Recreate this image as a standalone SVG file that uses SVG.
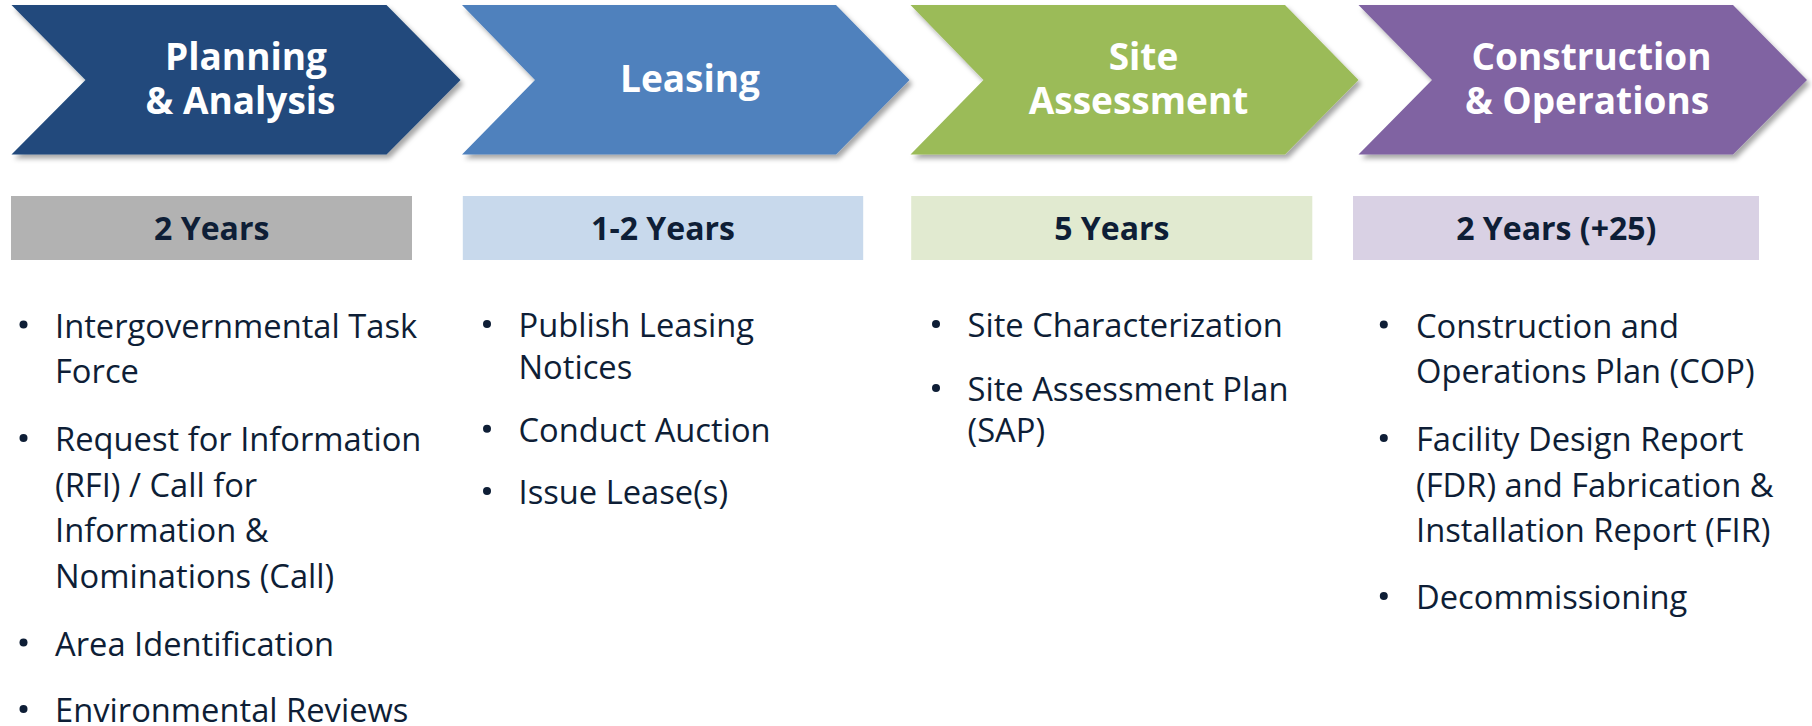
<svg xmlns="http://www.w3.org/2000/svg" width="1812" height="726" viewBox="0 0 1812 726">
<defs>
<filter id="shadow" x="-5%" y="-10%" width="115%" height="130%">
<feDropShadow dx="3" dy="4" stdDeviation="2.5" flood-color="#000" flood-opacity="0.35"/>
</filter>
</defs>
<style>
.title{font-family:"Open Sans","Noto Sans","Liberation Sans",sans-serif;font-weight:700;font-size:37px;fill:#FFFFFF;text-anchor:middle}
.years{font-family:"Open Sans","Noto Sans","Liberation Sans",sans-serif;font-weight:700;font-size:32px;fill:#0E1E36;text-anchor:middle}
.item{font-family:"Open Sans","Noto Sans","Liberation Sans",sans-serif;font-weight:400;font-size:32.7px;fill:#0E1E36}
.dot{fill:#0E1E36}
.chev{filter:url(#shadow)}
</style>
<rect width="1812" height="726" fill="#FFFFFF"/>

<g id="stage-planning">
<polygon class="chev" fill="#224A7C" points="11.5,5 386.5,5 460.5,80 386.5,154.5 11.5,154.5 85.5,80"/>
<text class="title" x="246" y="69.5">Planning</text>
<text class="title" x="240.5" y="113.5">&amp; Analysis</text>
<rect x="11" y="196" width="401" height="64" fill="#B2B2B2"/>
<text class="years" x="211.7" y="240">2 Years</text>
<circle class="dot" cx="23.5" cy="324.5" r="4"/>
<text class="item" x="55" y="337.5">Intergovernmental Task</text>
<text class="item" x="55" y="383">Force</text>
<circle class="dot" cx="23.5" cy="438" r="4"/>
<text class="item" x="55" y="451">Request for Information</text>
<text class="item" x="55" y="496.5">(RFI) / Call for</text>
<text class="item" x="55" y="542">Information &amp;</text>
<text class="item" x="55" y="587.5">Nominations (Call)</text>
<circle class="dot" cx="23.5" cy="642.5" r="4"/>
<text class="item" x="55" y="655.5">Area Identification</text>
<circle class="dot" cx="23.5" cy="709" r="4"/>
<text class="item" x="55" y="722">Environmental Reviews</text>
</g>

<g id="stage-leasing">
<polygon class="chev" fill="#4F81BD" points="462,5 836,5 909.5,80 836,154.5 462,154.5 535,80"/>
<text class="title" x="690" y="92">Leasing</text>
<rect x="462.8" y="196" width="400.4" height="64" fill="#C8D9EC"/>
<text class="years" x="663" y="240">1-2 Years</text>
<circle class="dot" cx="487" cy="324" r="4"/>
<text class="item" x="518.5" y="337">Publish Leasing</text>
<text class="item" x="518.5" y="378.7">Notices</text>
<circle class="dot" cx="487" cy="428.7" r="4"/>
<text class="item" x="518.5" y="441.7">Conduct Auction</text>
<circle class="dot" cx="487" cy="491" r="4"/>
<text class="item" x="518.5" y="504">Issue Lease(s)</text>
</g>

<g id="stage-site-assessment">
<polygon class="chev" fill="#9BBB59" points="910.5,5 1285,5 1358.5,80 1285,154.5 910.5,154.5 983.5,80"/>
<text class="title" x="1143.5" y="69.5">Site</text>
<text class="title" x="1138.5" y="113.5">Assessment</text>
<rect x="911.2" y="196" width="401.1" height="64" fill="#E1EAD0"/>
<text class="years" x="1111.8" y="240">5 Years</text>
<circle class="dot" cx="936" cy="324" r="4"/>
<text class="item" x="967.5" y="337">Site Characterization</text>
<circle class="dot" cx="936" cy="388" r="4"/>
<text class="item" x="967.5" y="401">Site Assessment Plan</text>
<text class="item" x="967.5" y="442">(SAP)</text>
</g>

<g id="stage-construction">
<polygon class="chev" fill="#8064A2" points="1358.5,5 1733,5 1807,80 1733,154.5 1358.5,154.5 1432,80"/>
<text class="title" x="1591.5" y="69.5">Construction</text>
<text class="title" x="1587" y="113.5">&amp; Operations</text>
<rect x="1353" y="196" width="406" height="64" fill="#D9D1E4"/>
<text class="years" x="1556.3" y="240">2 Years (+25)</text>
<circle class="dot" cx="1383.8" cy="324.5" r="4"/>
<text class="item" x="1416" y="337.5">Construction and</text>
<text class="item" x="1416" y="383">Operations Plan (COP)</text>
<circle class="dot" cx="1383.8" cy="438" r="4"/>
<text class="item" x="1416" y="451">Facility Design Report</text>
<text class="item" x="1416" y="496.5">(FDR) and Fabrication &amp;</text>
<text class="item" x="1416" y="542">Installation Report (FIR)</text>
<circle class="dot" cx="1383.8" cy="596" r="4"/>
<text class="item" x="1416" y="609">Decommissioning</text>
</g>

<g id="connectors"></g>
</svg>
